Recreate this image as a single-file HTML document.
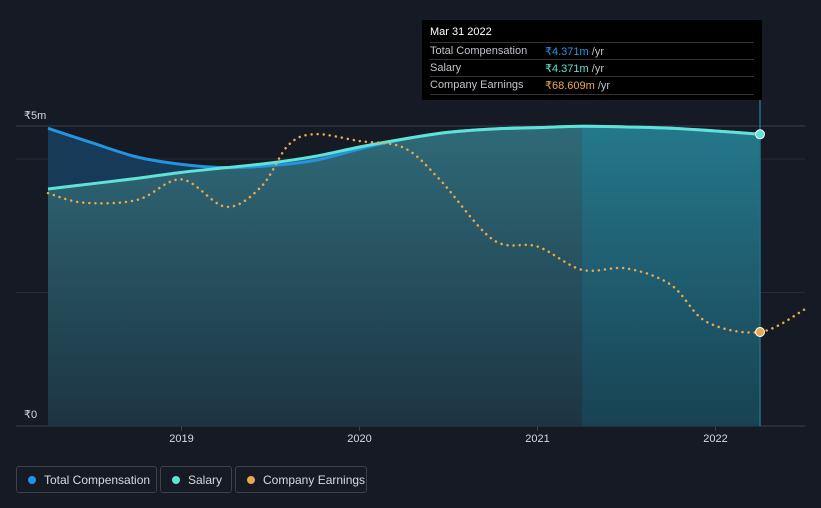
<!DOCTYPE html>
<html><head><meta charset="utf-8"><style>
body{margin:0;background:#151a24;font-family:"Liberation Sans",sans-serif;}
#wrap{position:relative;width:821px;height:508px;overflow:hidden;background:#151a24;}
.leg{position:absolute;top:466px;height:27px;border:1px solid #3a404c;border-radius:3px;color:#d6d9de;font-size:12px;line-height:27px;box-sizing:border-box;padding-left:27px;}
.leg i{position:absolute;left:11px;top:9px;width:8px;height:8px;border-radius:50%;}
</style></head><body>
<div id="wrap">
<svg id="chart" width="821" height="508">
<defs>
<linearGradient id="ga" x1="0" y1="0" x2="0" y2="1"><stop offset="0" stop-color="#2f6a78"/><stop offset="1" stop-color="#1d3442"/></linearGradient>
<linearGradient id="gh" x1="0" y1="0" x2="0" y2="1"><stop offset="0" stop-color="#237a8e"/><stop offset="1" stop-color="#174556"/></linearGradient>
</defs>
</svg>
<div style="position:absolute;left:422px;top:20px;width:340px;height:80px;background:#000;color:#bfc3c9;font-size:11px;">
<div style="position:absolute;left:8px;top:6px;color:#fff;font-size:11px;">Mar 31 2022</div>
<div style="position:absolute;left:8px;top:22px;width:324px;border-top:1px solid #333;padding-top:2px;">Total Compensation<span style="position:absolute;left:115px;"><b style="color:#2394df;font-weight:normal">₹4.371m</b> /yr</span></div>
<div style="position:absolute;left:8px;top:39px;width:324px;border-top:1px solid #333;padding-top:2px;">Salary<span style="position:absolute;left:115px;"><b style="color:#5fe3d6;font-weight:normal">₹4.371m</b> /yr</span></div>
<div style="position:absolute;left:8px;top:56px;width:324px;border-top:1px solid #333;border-bottom:1px solid #333;padding:2px 0 3px;">Company Earnings<span style="position:absolute;left:115px;"><b style="color:#e8a850;font-weight:normal">₹68.609m</b> /yr</span></div>
</div>
<div class="leg" style="left:16px;width:141px;"><i style="background:#2394df"></i>Total Compensation</div>
<div class="leg" style="left:160px;width:72px;"><i style="background:#5fe3d6"></i>Salary</div>
<div class="leg" style="left:235px;width:132px;"><i style="background:#e8a850"></i>Company Earnings</div>
</div>
<script>
const compT=[2018.25,2018.5,2018.75,2019.0,2019.25,2019.5,2019.75,2020.0,2020.25,2020.5,2020.75,2021.0,2021.25,2021.5,2021.75,2022.0,2022.25];
const compV=[4.46,4.24,4.03,3.92,3.87,3.9,3.98,4.15,4.3,4.4,4.45,4.47,4.49,4.48,4.46,4.42,4.37];
const salV=[3.55,3.63,3.71,3.8,3.87,3.94,4.04,4.18,4.3,4.4,4.45,4.47,4.49,4.48,4.46,4.42,4.37];
const earnT=[2018.25,2018.45,2018.75,2019.0,2019.25,2019.45,2019.6,2019.75,2020.0,2020.25,2020.45,2020.75,2021.0,2021.25,2021.5,2021.75,2021.95,2022.25,2022.5];
const earnV=[170,163,165,180,160,175,205,213,208,203,180,136,131,114,115,103,76,68.6,85];
const yTicks=["₹0","₹5m"];
const xTicks=[2019,2020,2021,2022];
const X=t=>48+(t-2018.25)*178;
const Y=v=>426-v*66.75;
const YE=v=>426-v*1.370;
const svg=document.getElementById('chart');
const NS='http://www.w3.org/2000/svg';
function mk(tag,a){const e=document.createElementNS(NS,tag);for(const k in a)e.setAttribute(k,a[k]);svg.appendChild(e);return e;}
function path(pts){let d='M'+pts[0][0]+','+pts[0][1];for(let i=0;i<pts.length-1;i++){const p0=pts[i-1]||pts[i],p1=pts[i],p2=pts[i+1],p3=pts[i+2]||p2;d+=' C'+(p1[0]+(p2[0]-p0[0])/6)+','+(p1[1]+(p2[1]-p0[1])/6)+' '+(p2[0]-(p3[0]-p1[0])/6)+','+(p2[1]-(p3[1]-p1[1])/6)+' '+p2[0]+','+p2[1];}return d;}
const compP=compT.map((t,i)=>[X(t),Y(compV[i])]);
const salP=compT.map((t,i)=>[X(t),Y(salV[i])]);
const earnP=earnT.map((t,i)=>[X(t),YE(earnV[i])]);
// gridlines
[[126,'#3a3f4a'],[Y(4),'#262c37'],[Y(2),'#262c37'],[426,'#3a3f4a']].forEach(g=>{const l=mk('line',{x1:16,x2:805,y1:g[0],y2:g[0],stroke:g[1],'stroke-width':1});

});
const x0=X(compT[0]),x1=X(compT[compT.length-1]);
const ca=mk('path',{d:path(compP)+' L'+x1+',426 L'+x0+',426 Z',fill:'#173a58'});


const sa=mk('path',{d:path(salP)+' L'+x1+',426 L'+x0+',426 Z',fill:'url(#ga)'});


const hx=X(2021.25);
const cp=mk('clipPath',{id:'hc'});const cr=document.createElementNS(NS,'rect');cr.setAttribute('x',hx);cr.setAttribute('y',0);cr.setAttribute('width',x1-hx);cr.setAttribute('height',426);cp.appendChild(cr);
const ha=mk('path',{d:path(salP)+' L'+x1+',426 L'+x0+',426 Z',fill:'url(#gh)','clip-path':'url(#hc)',opacity:0.85});


const vl=mk('line',{x1:x1,x2:x1,y1:100,y2:426,stroke:'#1f6f85','stroke-width':1.5});


const cl=mk('path',{d:path(compP),fill:'none',stroke:'#2394df','stroke-width':3});


const sl=mk('path',{d:path(salP),fill:'none',stroke:'#5fe3d6','stroke-width':3});


const el=mk('path',{d:path(earnP),fill:'none',stroke:'#e8a850','stroke-width':2.5,'stroke-dasharray':'0.1 6','stroke-linecap':'round'});


const sd=mk('circle',{cx:x1,cy:Y(salV[salV.length-1]),r:4.5,fill:'#5fe3d6',stroke:'#fff','stroke-width':1});


const ed=mk('circle',{cx:x1,cy:YE(earnV[17]),r:4.5,fill:'#e8a850',stroke:'#fff','stroke-width':1});


[[yTicks[1],119],[yTicks[0],418]].forEach(a=>{const t=mk('text',{x:24,y:a[1],fill:'#d6d9de','font-size':11});t.textContent=a[0];

});
xTicks.forEach(yr=>{const x=X(yr+0.0);
const tk=mk('line',{x1:x,x2:x,y1:426,y2:431,stroke:'#3a3f4a'});


const t=mk('text',{x:x,y:442,fill:'#d6d9de','font-size':11,'text-anchor':'middle'});t.textContent=yr;

});
</script>
</body></html>
